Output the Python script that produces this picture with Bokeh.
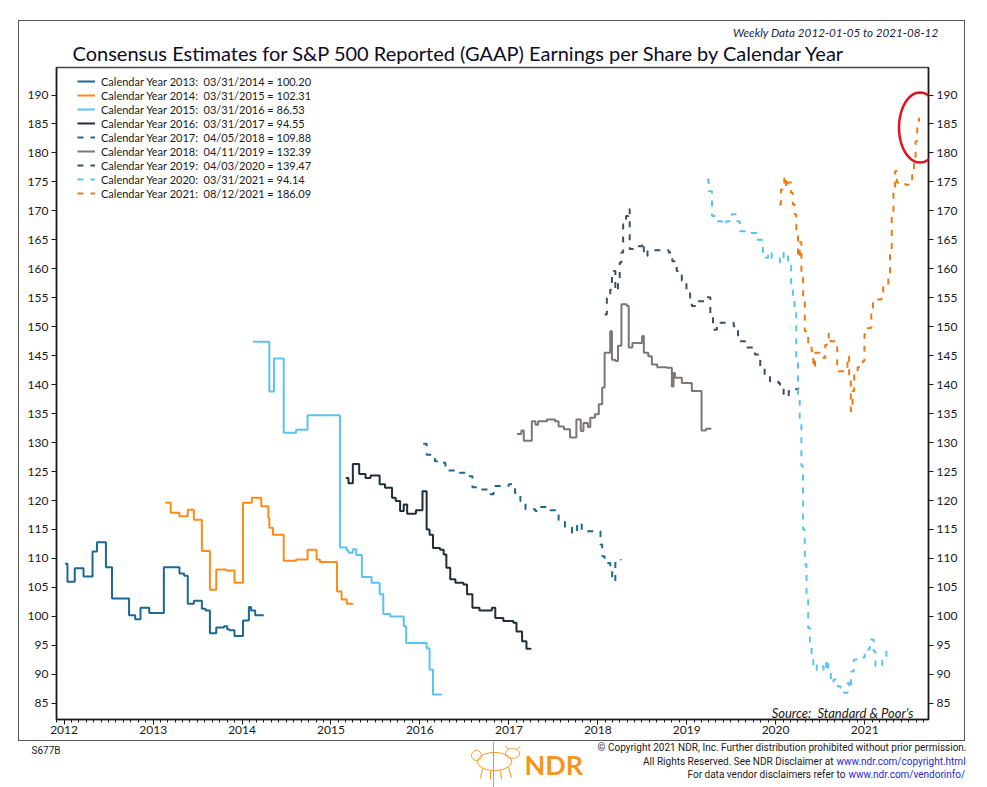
import numpy as np
import pandas as pd
from bokeh.plotting import figure
from bokeh.layouts import column, row
from bokeh.models import (Range1d, LinearAxis, FixedTicker, DatetimeTickFormatter,
                          Legend, LegendItem, Label, PolyAnnotation)
from bokeh.embed import file_html
from bokeh.resources import INLINE

# ---- data: consensus EPS estimates, breakpoints of the weekly step series ----
cy2013_dates = ["2012-01-05", "2012-01-15", "2012-02-14", "2012-03-21", "2012-04-27", "2012-05-15",
                "2012-06-21", "2012-07-16", "2012-09-24", "2012-10-19", "2012-11-10", "2012-12-16",
                "2013-02-14", "2013-04-19", "2013-05-08", "2013-05-23", "2013-06-17", "2013-07-20",
                "2013-08-04", "2013-08-22", "2013-09-17", "2013-10-19", "2013-11-01", "2013-11-10",
                "2013-12-01", "2014-01-05", "2014-01-29", "2014-02-07", "2014-02-24", "2014-03-31"]
cy2013_eps = [109.1, 106.0, 108.3, 106.9, 111.2, 112.8, 108.5, 103.1, 100.2, 99.5, 101.5, 100.6,
              108.5, 107.4, 107.0, 102.2, 102.7, 101.3, 101.0, 97.1, 98.1, 98.3, 97.8, 97.6,
              96.6, 99.3, 101.6, 101.0, 100.2, 100.20]

cy2014_dates = ["2013-02-20", "2013-03-14", "2013-04-19", "2013-05-23", "2013-06-17", "2013-07-20",
                "2013-08-22", "2013-09-17", "2013-10-27", "2013-12-01", "2014-01-05", "2014-02-10",
                "2014-03-21", "2014-04-19", "2014-04-23", "2014-05-08", "2014-06-21", "2014-08-11",
                "2014-09-27", "2014-11-03", "2014-11-17", "2015-01-26", "2015-02-14", "2015-03-07",
                "2015-03-31"]
cy2014_eps = [119.6, 117.9, 117.3, 118.4, 116.7, 111.3, 104.6, 108.1, 107.9, 105.8, 119.6, 120.5,
              119.0, 117.0, 115.3, 114.1, 109.6, 109.8, 111.5, 109.8, 109.4, 104.3, 102.9, 102.2,
              102.31]

cy2015_dates = ["2014-02-14", "2014-04-23", "2014-05-12", "2014-06-21", "2014-08-11", "2014-09-27",
                "2015-02-07", "2015-03-07", "2015-03-14", "2015-04-01", "2015-04-15", "2015-05-08",
                "2015-06-17", "2015-07-20", "2015-08-04", "2015-09-02", "2015-10-27", "2015-11-06",
                "2016-01-29", "2016-02-10", "2016-02-24", "2016-03-31"]
cy2015_eps = [147.4, 138.8, 144.5, 131.7, 132.2, 134.7, 111.9, 111.4, 111.0, 111.6, 110.6, 106.8,
              105.8, 103.8, 100.4, 100.0, 98.3, 95.4, 94.5, 90.8, 86.5, 86.53]

cy2016_dates = ["2015-03-03", "2015-03-14", "2015-04-01", "2015-04-27", "2015-05-23", "2015-06-13",
                "2015-07-20", "2015-08-11", "2015-09-09", "2015-09-24", "2015-10-12", "2015-10-27",
                "2015-11-10", "2015-12-16", "2016-01-12", "2016-01-29", "2016-02-10", "2016-02-24",
                "2016-03-24", "2016-04-08", "2016-04-19", "2016-05-05", "2016-05-26", "2016-06-28",
                "2016-07-13", "2016-08-04", "2016-09-02", "2016-10-23", "2016-11-06", "2016-12-09",
                "2017-01-19", "2017-02-01", "2017-02-24", "2017-03-14", "2017-03-31"]
cy2016_eps = [123.9, 123.0, 126.3, 124.6, 123.9, 124.3, 122.8, 122.2, 120.5, 119.9, 118.2, 119.3,
              117.7, 118.3, 121.6, 115.0, 114.1, 111.8, 111.5, 110.7, 108.4, 106.4, 105.8, 105.5,
              103.8, 101.5, 101.0, 101.5, 99.7, 99.2, 98.9, 97.4, 95.7, 94.4, 94.55]

cy2017_dates = ["2016-01-15", "2016-01-29", "2016-03-03", "2016-03-24", "2016-04-15", "2016-06-13",
                "2016-07-20", "2016-08-04", "2016-09-06", "2016-10-08", "2016-10-30", "2016-12-31",
                "2017-01-26", "2017-02-17", "2017-03-10", "2017-04-19", "2017-05-05", "2017-06-20",
                "2017-07-24", "2017-08-19", "2017-09-17", "2017-10-08", "2017-10-27", "2018-01-12",
                "2018-01-19", "2018-01-29", "2018-02-21", "2018-03-01", "2018-03-14", "2018-04-05"]
cy2017_eps = [129.8, 127.9, 126.8, 126.5, 125.2, 124.8, 124.2, 122.3, 121.9, 121.1, 122.5, 122.8,
              121.3, 119.9, 118.5, 118.2, 118.9, 118.3, 116.7, 115.4, 114.4, 116.1, 114.7, 112.4,
              110.4, 109.2, 108.4, 106.1, 109.5, 109.88]

cy2018_dates = ["2017-02-03", "2017-02-21", "2017-03-03", "2017-04-05", "2017-04-20", "2017-05-01",
                "2017-06-06", "2017-07-09", "2017-07-24", "2017-08-15", "2017-09-09", "2017-10-05",
                "2017-10-23", "2017-11-03", "2017-11-21", "2017-12-01", "2017-12-20", "2018-01-05",
                "2018-01-19", "2018-01-29", "2018-02-21", "2018-02-28", "2018-03-14", "2018-03-25",
                "2018-04-08", "2018-04-30", "2018-05-08", "2018-05-23", "2018-07-02", "2018-07-09",
                "2018-07-27", "2018-08-11", "2018-09-02", "2018-10-12", "2018-11-01", "2018-11-08",
                "2018-11-14", "2018-12-12", "2019-01-22", "2019-03-03", "2019-03-21", "2019-04-11"]
cy2018_eps = [131.5, 132.1, 130.3, 133.7, 133.1, 133.7, 134.0, 133.7, 132.8, 132.3, 130.9, 134.0,
              132.0, 133.4, 132.7, 134.3, 134.9, 136.6, 139.5, 145.5, 149.2, 144.3, 144.1, 146.7,
              153.9, 153.6, 146.4, 147.2, 148.4, 145.5, 144.9, 143.5, 143.0, 142.9, 139.7, 142.0,
              141.2, 140.3, 138.9, 132.1, 132.4, 132.39]

cy2019_dates = ["2018-01-29", "2018-02-07", "2018-02-21", "2018-02-28", "2018-03-14", "2018-03-25",
                "2018-04-01", "2018-04-08", "2018-04-15", "2018-04-27", "2018-05-08", "2018-05-12",
                "2018-05-26", "2018-07-02", "2018-07-09", "2018-07-24", "2018-10-19", "2018-11-03",
                "2018-11-21", "2018-12-12", "2018-12-31", "2019-01-15", "2019-01-22", "2019-02-14",
                "2019-03-25", "2019-04-08", "2019-04-19", "2019-05-05", "2019-07-13", "2019-07-31",
                "2019-08-29", "2019-10-08", "2019-10-30", "2019-11-17", "2019-12-09", "2020-01-12",
                "2020-01-19", "2020-02-03", "2020-02-24", "2020-03-14", "2020-04-03"]
cy2019_eps = [152.1, 155.1, 156.4, 159.6, 156.2, 157.9, 161.1, 162.8, 167.7, 169.1, 170.3, 163.4,
              163.9, 164.5, 162.2, 163.2, 162.8, 161.3, 159.6, 158.0, 156.2, 155.0, 153.6, 154.4,
              155.1, 151.5, 149.5, 150.7, 150.1, 147.5, 146.4, 145.2, 143.2, 141.7, 140.6, 140.3,
              139.4, 138.0, 138.9, 139.2, 139.47]

cy2020_dates = ["2019-03-25", "2019-04-01", "2019-04-15", "2019-04-27", "2019-05-26", "2019-06-13",
                "2019-07-05", "2019-07-27", "2019-08-07", "2019-08-29", "2019-10-16", "2019-11-06",
                "2019-11-10", "2019-12-01", "2019-12-16", "2020-01-19", "2020-02-03", "2020-02-21",
                "2020-03-05", "2020-03-12", "2020-03-19", "2020-03-26", "2020-04-02", "2020-04-09",
                "2020-04-16", "2020-04-23", "2020-04-30", "2020-05-07", "2020-05-14", "2020-05-21",
                "2020-05-28", "2020-06-04", "2020-06-18", "2020-07-02", "2020-07-16", "2020-07-27",
                "2020-08-04", "2020-08-15", "2020-08-26", "2020-09-13", "2020-09-24", "2020-10-23",
                "2020-10-30", "2020-11-06", "2020-11-17", "2020-11-28", "2021-01-01", "2021-01-22",
                "2021-02-07", "2021-02-14", "2021-03-14", "2021-03-31"]
cy2020_eps = [175.4, 173.4, 169.1, 168.2, 167.7, 168.2, 169.4, 168.2, 166.5, 166.2, 165.0, 164.5,
              161.9, 162.9, 161.8, 161.1, 162.8, 160.8, 157.3, 155.3, 152.7, 144.1, 138.3, 134.0,
              126.0, 115.0, 109.0, 104.0, 98.0, 95.4, 93.4, 90.8, 91.7, 91.4, 90.5, 92.5,
              90.8, 88.5, 89.1, 87.9, 86.8, 88.5, 87.6, 90.5, 92.5, 92.9, 94.3, 96.0,
              94.0, 91.4, 92.8, 94.14]

cy2021_dates = ["2020-01-16", "2020-01-23", "2020-01-30", "2020-02-06", "2020-02-13", "2020-02-20",
                "2020-03-05", "2020-03-12", "2020-03-19", "2020-03-26", "2020-04-02", "2020-04-09",
                "2020-04-16", "2020-04-23", "2020-04-30", "2020-05-14", "2020-05-28", "2020-06-04",
                "2020-06-11", "2020-07-16", "2020-07-23", "2020-08-06", "2020-08-13", "2020-09-10",
                "2020-10-15", "2020-10-22", "2020-10-29", "2020-11-05", "2020-11-12", "2020-11-19",
                "2020-12-03", "2020-12-24", "2020-12-31", "2021-01-14", "2021-01-28", "2021-02-04",
                "2021-03-11", "2021-03-18", "2021-04-08", "2021-04-15", "2021-04-22", "2021-04-29",
                "2021-05-06", "2021-05-13", "2021-06-17", "2021-07-01", "2021-07-15", "2021-07-22",
                "2021-07-29", "2021-08-05", "2021-08-12"]
cy2021_eps = [171.1, 173.7, 174.3, 176.0, 174.0, 174.9, 173.1, 171.1, 169.4, 166.8, 161.9, 164.6,
              158.5, 154.4, 149.2, 147.2, 145.8, 142.9, 145.5, 144.6, 146.9, 148.8, 147.5, 142.3,
              142.6, 144.9, 141.2, 135.4, 138.9, 142.3, 143.0, 144.1, 148.7, 149.8, 152.7, 154.7,
              155.6, 157.0, 159.0, 163.1, 169.4, 174.0, 176.9, 174.9, 174.5, 174.9, 176.2, 178.3,
              182.0, 185.5, 186.09]

calendar_years = [2013, 2014, 2015, 2016, 2017, 2018, 2019, 2020, 2021]
series_dates = [cy2013_dates, cy2014_dates, cy2015_dates, cy2016_dates, cy2017_dates,
                cy2018_dates, cy2019_dates, cy2020_dates, cy2021_dates]
series_eps = [cy2013_eps, cy2014_eps, cy2015_eps, cy2016_eps, cy2017_eps,
              cy2018_eps, cy2019_eps, cy2020_eps, cy2021_eps]
y_ticks = list(range(85, 191, 5))
x_tick_years = list(range(2012, 2022))

colors = ["#1a6894", "#ff8b17", "#5ac3f2", "#1f2d36", "#1a6894",
          "#7d7672", "#3a5260", "#5ac3f2", "#ee7a12"]
dashes = ["solid", "solid", "solid", "solid", "6 7", "solid", "6 7", "6 7", "6 7"]

# ---- geometry, in page pixels ----
BOX_L, BOX_T = 18, 20          # outer box, 1px border
IN_W = 945                     # width inside the box
HEAD_H, MAIN_H, FOOT_H = 45, 674, 46
MAIN_X, MAIN_Y = BOX_L + 1, BOX_T + 1 + HEAD_H
FL, FR, FT, FB = 56, 928, 67, 719   # plot frame
X0, X1 = pd.Timestamp("2011-12-01"), pd.Timestamp("2021-09-20")
Y0, Y1 = 82.2, 194.75
FONT = "Lato"
SMALL = "Roboto"
NDR_ORANGE = "#f7941d"


def ms(ts):
    return pd.Timestamp(ts).value / 1e6


def px_x(px):
    return ms(X0) + (px - FL) / (FR - FL) * (ms(X1) - ms(X0))


def px_y(py):
    return Y0 + (FB - py) / (FB - FT) * (Y1 - Y0)


def label(fig, x, y, s, size, align="left", color="#1a1a1a", font=FONT, style="normal"):
    fig.add_layout(Label(x=x, y=y, text=s, text_font=font, text_font_size=f"{size}px",
                         text_align=align, text_baseline="middle", text_color=color,
                         text_font_style=style))


def blank(w, h):
    # a figure whose frame is the whole canvas, in pixel units (y downwards)
    f = figure(width=w, height=h, x_range=Range1d(0, w), y_range=Range1d(h, 0),
               x_axis_location=None, y_axis_location=None, title=None,
               output_backend="svg", toolbar_location=None,
               min_border=0, min_border_left=0, min_border_right=0,
               min_border_top=0, min_border_bottom=0)
    f.xgrid.visible = False
    f.ygrid.visible = False
    f.outline_line_color = None
    return f


# ---- main chart ----
p = figure(width=IN_W, height=MAIN_H, x_axis_type="datetime", title=None,
           x_range=Range1d(X0.to_pydatetime(), X1.to_pydatetime()), y_range=Range1d(Y0, Y1),
           output_backend="svg", toolbar_location=None,
           min_border_left=FL - MAIN_X, min_border_right=MAIN_X + IN_W - FR,
           min_border_top=FT - MAIN_Y, min_border_bottom=MAIN_Y + MAIN_H - FB)
p.xgrid.visible = False
p.ygrid.visible = False
p.outline_line_color = "#444444"
p.outline_line_width = 1.5
p.add_layout(LinearAxis(), "right")


def style_axis(ax):
    ax.axis_line_color = "#1a1a1a"
    ax.axis_line_width = 1.5
    ax.major_tick_line_color = "#1a1a1a"
    ax.minor_tick_line_color = "#1a1a1a"
    ax.major_tick_in = 0
    ax.major_tick_out = 5
    ax.minor_tick_in = 0
    ax.minor_tick_out = 3
    ax.major_label_text_font = FONT
    ax.major_label_text_font_size = "12px"
    ax.major_label_text_color = "#1a1a1a"


for ax in p.yaxis:
    style_axis(ax)
    ax.ticker = FixedTicker(ticks=y_ticks, minor_ticks=[])
    ax.major_label_standoff = 3

style_axis(p.xaxis[0])
p.xaxis.ticker = FixedTicker(
    ticks=[ms(f"{y}-01-01") for y in x_tick_years],
    minor_ticks=[ms(d) for d in pd.date_range("2011-12-01", "2021-09-01", freq="MS")])
p.xaxis.formatter = DatetimeTickFormatter(years="%Y", months="%Y", days="%Y")
p.xaxis.major_label_standoff = 1

items = []
for yr, d, v, c, dash in zip(calendar_years, series_dates, series_eps, colors, dashes):
    r = p.step(x=pd.to_datetime(d), y=v, mode="after", line_color=c,
               line_width=2, line_dash=dash)
    end = pd.Timestamp(d[-1])
    items.append(LegendItem(label=f"Calendar Year {yr}:\u00a0\u00a0{end:%m/%d/%Y} = {v[-1]:.2f}",
                            renderers=[r]))

legend = Legend(items=items, location=(21, 519), padding=0, margin=0, spacing=0,
                glyph_width=18, glyph_height=14, label_height=14, label_standoff=6,
                label_text_font=FONT, label_text_font_size="11px", label_text_color="#1a1a1a",
                border_line_color=None, background_fill_alpha=0)
p.add_layout(legend)

label(p, px_x(913), px_y(712), "Source:\u00a0\u00a0Standard & Poor's", 13, align="right",
      style="italic")

# highlight around the latest estimate
t = np.linspace(0, 2 * np.pi, 73)
p.add_layout(PolyAnnotation(xs=[px_x(919.5 + 21 * np.cos(a)) for a in t],
                            ys=[px_y(127 + 35 * np.sin(a)) for a in t],
                            fill_alpha=0, line_color="#e3111b", line_alpha=1, line_width=2.5))

# ---- header (inside the box); wrapped in a row so its frame is not aligned to p's ----
head = blank(IN_W, HEAD_H)
hx, hy = BOX_L + 1, BOX_T + 1
label(head, 72 - hx, 52 - hy,
      "Consensus Estimates for S&P 500 Reported (GAAP) Earnings per Share by Calendar Year",
      20, color="#0c0c24")
label(head, 938 - hx, 31 - hy, "Weekly Data 2012-01-05 to 2021-08-12", 11.7, align="right",
      color="#1d1d3d", style="italic")

# ---- footer (below the box) ----
FOOT_Y = BOX_T + 2 + HEAD_H + MAIN_H
foot = blank(987, FOOT_H)
label(foot, 31, 750 - FOOT_Y, "S677B", 10, font=SMALL)
label(foot, 966, 747 - FOOT_Y,
      "\u00a9 Copyright 2021 NDR, Inc. Further distribution prohibited without prior permission.",
      10, align="right", font=SMALL)
label(foot, 833, 761 - FOOT_Y, "All Rights Reserved. See NDR Disclaimer at", 10,
      align="right", font=SMALL)
label(foot, 836, 761 - FOOT_Y, "www.ndr.com/copyright.html", 10, color="#1f1fd6", font=SMALL)
label(foot, 845, 774 - FOOT_Y, "For data vendor disclaimers refer to", 10, align="right",
      font=SMALL)
label(foot, 848, 774 - FOOT_Y, "www.ndr.com/vendorinfo/", 10, color="#1f1fd6", font=SMALL)

# NDR logo: staff line, a rough bull/bear sketch and the letters
foot.line([493, 493], [0, FOOT_H], line_color=NDR_ORANGE, line_width=1)
body = np.linspace(0, 2 * np.pi, 41)
foot.line(494 + 17 * np.cos(body), 20 + 9 * np.sin(body), line_color=NDR_ORANGE, line_width=1)
foot.line(476 + 5 * np.cos(body), 14 + 5 * np.sin(body), line_color=NDR_ORANGE, line_width=1)
foot.line(512 + 7 * np.cos(body), 12 + 5 * np.sin(body), line_color=NDR_ORANGE, line_width=1)
foot.multi_line(xs=[[508, 505], [516, 520], [482, 480], [490, 490], [500, 501], [508, 511]],
                ys=[[8, 4], [8, 5], [27, 37], [29, 38], [29, 38], [26, 36]],
                line_color=NDR_ORANGE, line_width=1)
label(foot, 524, 764 - FOOT_Y, "NDR", 27, color=NDR_ORANGE, style="bold")

box = column(row(head), p, margin=(BOX_T, 0, 0, BOX_L),
             styles={"border": "1px solid #555555"})
root = column(box, foot)

open("out.html", "w").write(file_html(root, INLINE))
